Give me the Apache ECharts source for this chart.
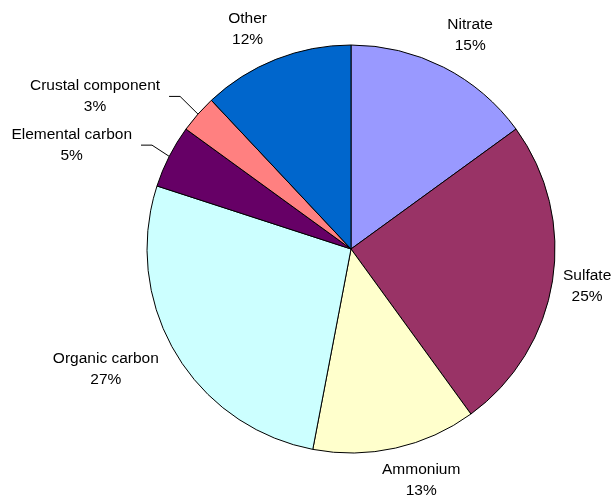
<!DOCTYPE html>
<html><head><meta charset="utf-8">
<script src="https://cdn.jsdelivr.net/npm/echarts@6/dist/echarts.min.js"></script>
<style>html,body{margin:0;padding:0;background:#fff}#c{width:613px;height:497px}</style>
</head><body><div id="c"></div><script>
const categories = ['Nitrate','Sulfate','Ammonium','Organic carbon','Elemental carbon','Crustal component','Other'];
const shares = [15,25,13,27,5,3,12];
const colors = ['#9999FF','#993366','#FFFFCC','#CCFFFF','#660066','#FF8080','#0066CC'];
// label placement (layout only): angle tweak in degrees and distance from centre
const labelAngleShift = [2.1,-0.1,-4.3,4.5,-6.6,-10.6,-3.6];
const labelDistance = [245,239,241.5,273,298,298,243];
const leaderLine = [false,false,false,false,true,true,false];

const CX = 351, CY = 249, R = 204;
const total = shares.reduce((a,b)=>a+b,0);
const mids = []; let acc = 0;
shares.forEach(v => { mids.push((acc + v/2) / total * 360); acc += v; });
function pt(deg, r){ const a = deg*Math.PI/180; return [CX + r*Math.sin(a), CY - r*Math.cos(a)]; }

const chart = echarts.init(document.getElementById('c'), null, {renderer:'canvas'});
chart.setOption({
  animation:false,
  backgroundColor:'#fff',
  series:[{
    type:'pie',
    center:[CX, CY],
    radius:R,
    startAngle:90,
    clockwise:true,
    avoidLabelOverlap:false,
    emphasis:{disabled:true},
    itemStyle:{borderColor:'#000', borderWidth:1},
    label:{
      show:true, position:'outside',
      formatter: p => p.name + '\n' + p.value + '%',
      fontFamily:'"Liberation Sans", Arial, sans-serif',
      fontSize:15.5, lineHeight:21, color:'#000', align:'center'
    },
    labelLine:{show:false, lineStyle:{color:'#000', width:1}, smooth:false},
    labelLayout: function(params){
      const i = params.dataIndex;
      const c = pt(mids[i] + labelAngleShift[i], labelDistance[i]);
      const out = {x:c[0], y:c[1], align:'center', verticalAlign:'middle'};
      if (leaderLine[i]) {
        const w = params.labelRect.width;
        const end = [c[0] + w/2 + 9, c[1]];
        const bend = [end[0] + 11, c[1]];
        out.labelLinePoints = [pt(mids[i], R), bend, end];
      }
      return out;
    },
    data: categories.map((n,i)=>({
      name:n, value:shares[i],
      itemStyle:{color:colors[i]},
      labelLine:{show:leaderLine[i]}
    }))
  }]
});
</script></body></html>
